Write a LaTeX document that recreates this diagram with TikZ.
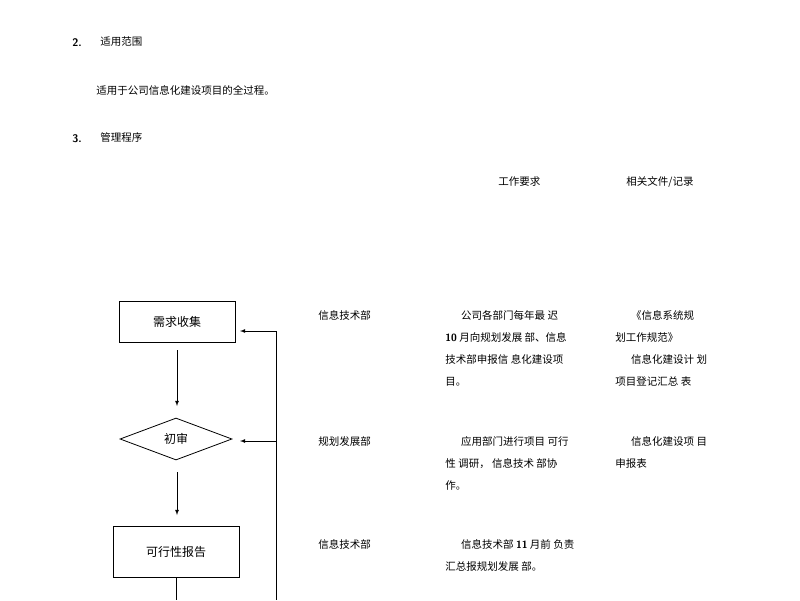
\documentclass[tikz,border=0pt]{standalone}
\usepackage{fontspec}
\newfontfamily\cjk{Noto Sans CJK SC}
\usetikzlibrary{arrows,shapes.geometric}
\begin{document}
\begin{tikzpicture}[x=1pt,y=-1pt,>=latex,thick,
  step node/.style={draw,minimum width=116pt,minimum height=41pt,font=\cjk\fontsize{12}{14}\selectfont},
  check node/.style={diamond,draw,aspect=2.7,minimum width=112pt,minimum height=42pt,inner sep=0pt,font=\cjk\fontsize{12}{14}\selectfont},
  txt/.style={anchor=north west,font=\cjk\fontsize{10.5}{22}\selectfont,align=left,inner sep=0pt},
  num/.style={anchor=west,font=\sffamily\bfseries\fontsize{11}{13}\selectfont,inner sep=0pt}]
  \useasboundingbox (0,0) rectangle (800,600);

  \node[num] (n2) at (72,43) {2.};
  \node[txt] (t2) at (100,36) {适用范围};
  \node[txt] (s2) at (96,85) {适用于公司信息化建设项目的全过程。};
  \node[num] (n3) at (72,139) {3.};
  \node[txt] (t3) at (100,132) {管理程序};
  \node[txt] (h1) at (498,176) {工作要求};
  \node[txt] (h2) at (626,176) {相关文件/记录};

  \node[step node] (1) at (177,322) {需求收集};
  \node[check node] (2) at (176,439) {初审};
  \node[step node, minimum width=126pt, minimum height=51pt] (3) at (176,552) {可行性报告};

  \draw[->] (177,350) -- (177,406);
  \draw[->] (177,472) -- (177,515);
  \draw (3.south) -- (176,600);
  \draw (276,331) -- (276,600);
  \draw[->] (276,331) -- (240,331);
  \draw[->] (276,441) -- (240,441);

  % rows
  \node[txt] (d1) at (318,310) {信息技术部};
  \node[txt] (w1) at (445,310) {\hspace{1.5em}公司各部门每年最 迟\\{\sffamily\bfseries 10} 月向规划发展 部、信息\\技术部申报信 息化建设项\\目。};
  \node[txt] (r1) at (615,310) {\hspace{1.5em}《信息系统规\\划工作规范》\\\hspace{1.5em}信息化建设计 划\\项目登记汇总 表};
  \node[txt] (d2) at (318,436) {规划发展部};
  \node[txt] (w2) at (445,436) {\hspace{1.5em}应用部门进行项目 可行\\性 调研， 信息技术 部协\\作。};
  \node[txt] (r2) at (615,436) {\hspace{1.5em}信息化建设项 目\\申报表};
  \node[txt] (d3) at (318,539) {信息技术部};
  \node[txt] (w3) at (445,539) {\hspace{1.5em}信息技术部 {\sffamily\bfseries 11} 月前 负责\\汇总报规划发展 部。};
\end{tikzpicture}
\end{document}
